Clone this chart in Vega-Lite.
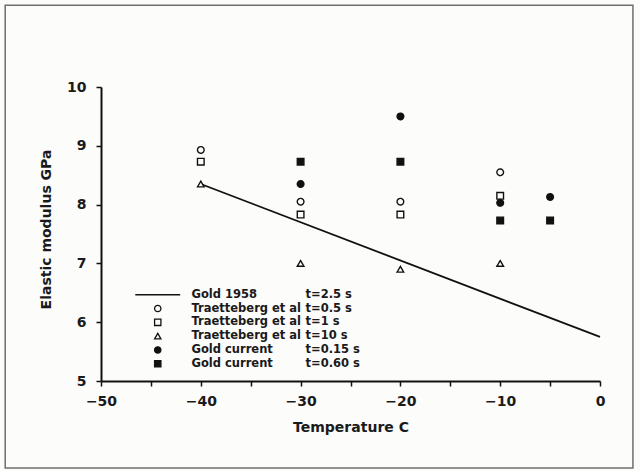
{
  "$schema": "https://vega.github.io/schema/vega-lite/v6.json",
  "width": 499,
  "height": 294,
  "autosize": "none",
  "padding": {"left": 101, "top": 87, "right": 40, "bottom": 90},
  "background": "#fcfcfa",
  "config": {"view": {"stroke": null}, "font": "DejaVu Sans"},
  "datasets": {
    "points": [
      {"series": "Traetteberg et al|t=0.5 s", "t": "t=0.5 s", "temperature": -40, "modulus": 8.93},
      {"series": "Traetteberg et al|t=0.5 s", "t": "t=0.5 s", "temperature": -30, "modulus": 8.05},
      {"series": "Traetteberg et al|t=0.5 s", "t": "t=0.5 s", "temperature": -20, "modulus": 8.05},
      {"series": "Traetteberg et al|t=0.5 s", "t": "t=0.5 s", "temperature": -10, "modulus": 8.55},
      {"series": "Traetteberg et al|t=1 s", "t": "t=1 s", "temperature": -40, "modulus": 8.73},
      {"series": "Traetteberg et al|t=1 s", "t": "t=1 s", "temperature": -30, "modulus": 7.83},
      {"series": "Traetteberg et al|t=1 s", "t": "t=1 s", "temperature": -20, "modulus": 7.83},
      {"series": "Traetteberg et al|t=1 s", "t": "t=1 s", "temperature": -10, "modulus": 8.15},
      {"series": "Traetteberg et al|t=10 s", "t": "t=10 s", "temperature": -40, "modulus": 8.35},
      {"series": "Traetteberg et al|t=10 s", "t": "t=10 s", "temperature": -30, "modulus": 7.0},
      {"series": "Traetteberg et al|t=10 s", "t": "t=10 s", "temperature": -20, "modulus": 6.9},
      {"series": "Traetteberg et al|t=10 s", "t": "t=10 s", "temperature": -10, "modulus": 7.0},
      {"series": "Gold current|t=0.15 s", "t": "t=0.15 s", "temperature": -30, "modulus": 8.35},
      {"series": "Gold current|t=0.15 s", "t": "t=0.15 s", "temperature": -20, "modulus": 9.5},
      {"series": "Gold current|t=0.15 s", "t": "t=0.15 s", "temperature": -10, "modulus": 8.03},
      {"series": "Gold current|t=0.15 s", "t": "t=0.15 s", "temperature": -5, "modulus": 8.13},
      {"series": "Gold current|t=0.60 s", "t": "t=0.60 s", "temperature": -30, "modulus": 8.73},
      {"series": "Gold current|t=0.60 s", "t": "t=0.60 s", "temperature": -20, "modulus": 8.73},
      {"series": "Gold current|t=0.60 s", "t": "t=0.60 s", "temperature": -10, "modulus": 7.73},
      {"series": "Gold current|t=0.60 s", "t": "t=0.60 s", "temperature": -5, "modulus": 7.73}
    ],
    "gold1958": [
      {"series": "Gold 1958|t=2.5 s", "temperature": -40, "modulus": 8.35},
      {"series": "Gold 1958|t=2.5 s", "temperature": 0, "modulus": 5.75}
    ]
  },
  "layer": [
    {
      "data": {"values": [{"frame": "outer"}]},
      "mark": {"type": "rect", "filled": false, "stroke": "#6e6e6e", "strokeWidth": 1.5},
      "encoding": {
        "x": {"datum": -59.6, "type": "quantitative", "scale": {"domain": [-50, 0], "nice": false, "zero": false}},
        "x2": {"datum": 3.3},
        "y": {"datum": 11.39, "type": "quantitative", "scale": {"domain": [5, 10], "nice": false, "zero": false}},
        "y2": {"datum": 3.52}
      }
    },
    {
      "data": {"name": "gold1958"},
      "mark": {"type": "line", "color": "#111", "strokeWidth": 1.8},
      "encoding": {
        "x": {"field": "temperature", "type": "quantitative", "scale": {"domain": [-50, 0], "nice": false, "zero": false}},
        "y": {"field": "modulus", "type": "quantitative", "scale": {"domain": [5, 10], "nice": false, "zero": false}}
      }
    },
    {
      "data": {"name": "points"},
      "mark": {"type": "point", "filled": false, "strokeWidth": 1.4, "opacity": 1, "size": 44},
      "encoding": {
        "x": {
          "field": "temperature",
          "type": "quantitative",
          "title": "Temperature  C",
          "scale": {"domain": [-50, 0], "nice": false, "zero": false},
          "axis": {
            "values": [-50, -45, -40, -35, -30, -25, -20, -15, -10, -5, 0],
            "labelExpr": "datum.value % 10 === 0 ? datum.label : ''",
            "grid": false,
            "domainColor": "#111",
            "domainWidth": 2,
            "tickColor": "#111",
            "tickWidth": 1.5,
            "tickSize": 5,
            "labelPadding": 8,
            "labelFont": "DejaVu Sans",
            "labelFontSize": 14,
            "labelFontWeight": "bold",
            "labelColor": "#1a1a1a",
            "labelFlush": false,
            "titleFont": "DejaVu Sans",
            "titleFontSize": 14,
            "titleFontWeight": "bold",
            "titleColor": "#1a1a1a",
            "titleX": 249.5,
            "titleY": 46,
            "titleAlign": "center",
            "titleBaseline": "middle",
            "encode": {"ticks": {"update": {"y2": {"value": -5}}}}
          }
        },
        "y": {
          "field": "modulus",
          "type": "quantitative",
          "title": "Elastic  modulus  GPa",
          "scale": {"domain": [5, 10], "nice": false, "zero": false},
          "axis": {
            "values": [5, 5.5, 6, 6.5, 7, 7.5, 8, 8.5, 9, 9.5, 10],
            "labelExpr": "datum.value % 1 === 0 ? format(datum.value, 'd') : ''",
            "grid": false,
            "domainColor": "#111",
            "domainWidth": 2,
            "tickColor": "#111",
            "tickWidth": 1.5,
            "tickSize": 5,
            "labelPadding": 10,
            "labelFont": "DejaVu Sans",
            "labelFontSize": 14,
            "labelFontWeight": "bold",
            "labelColor": "#1a1a1a",
            "labelFlush": false,
            "titleFont": "DejaVu Sans",
            "titleFontSize": 14,
            "titleFontWeight": "bold",
            "titleColor": "#1a1a1a",
            "titleX": -55,
            "titleY": 142,
            "titleAngle": -90,
            "titleAlign": "center",
            "titleBaseline": "middle",
            "encode": {"ticks": {"update": {"x2": {"value": 5}}}}
          }
        },
        "shape": {
          "field": "series",
          "type": "nominal",
          "scale": {
            "domain": ["Gold 1958|t=2.5 s", "Traetteberg et al|t=0.5 s", "Traetteberg et al|t=1 s", "Traetteberg et al|t=10 s", "Gold current|t=0.15 s", "Gold current|t=0.60 s"],
            "range": ["M-7.1,0H7.1", "circle", "square", "triangle-up", "circle", "square"]
          },
          "legend": {
            "orient": "none",
            "legendX": 51,
            "legendY": 202,
            "title": null,
            "labelExpr": "split(datum.label, '|')[0]",
            "labelFont": "DejaVu Sans",
            "labelFontSize": 11.5,
            "labelFontWeight": "bold",
            "labelColor": "#1a1a1a",
            "labelOffset": 28,
            "rowPadding": 0.8,
            "symbolSize": 40,
            "symbolStrokeWidth": 1.3
          }
        },
        "fill": {
          "field": "series",
          "type": "nominal",
          "scale": {
            "domain": ["Gold 1958|t=2.5 s", "Traetteberg et al|t=0.5 s", "Traetteberg et al|t=1 s", "Traetteberg et al|t=10 s", "Gold current|t=0.15 s", "Gold current|t=0.60 s"],
            "range": ["#111", "#fcfcfa", "#fcfcfa", "#fcfcfa", "#111", "#111"]
          }
        },
        "stroke": {
          "field": "series",
          "type": "nominal",
          "scale": {
            "domain": ["Gold 1958|t=2.5 s", "Traetteberg et al|t=0.5 s", "Traetteberg et al|t=1 s", "Traetteberg et al|t=10 s", "Gold current|t=0.15 s", "Gold current|t=0.60 s"],
            "range": ["#111", "#111", "#111", "#111", "#111", "#111"]
          }
        },
        "strokeDash": {
          "field": "t",
          "type": "nominal",
          "scale": {
            "domain": ["t=2.5 s", "t=0.5 s", "t=1 s", "t=10 s", "t=0.15 s", "t=0.60 s"],
            "range": [[1, 0], [1, 0], [1, 0], [1, 0], [1, 0], [1, 0]]
          },
          "legend": {
            "orient": "none",
            "legendX": 193,
            "legendY": 202,
            "title": null,
            "labelFont": "DejaVu Sans",
            "labelFontSize": 11.5,
            "labelFontWeight": "bold",
            "labelColor": "#1a1a1a",
            "labelOffset": 0,
            "rowPadding": 0.8,
            "symbolOpacity": 0,
            "symbolSize": 0,
            "symbolStrokeWidth": 0
          }
        }
      }
    }
  ]
}
